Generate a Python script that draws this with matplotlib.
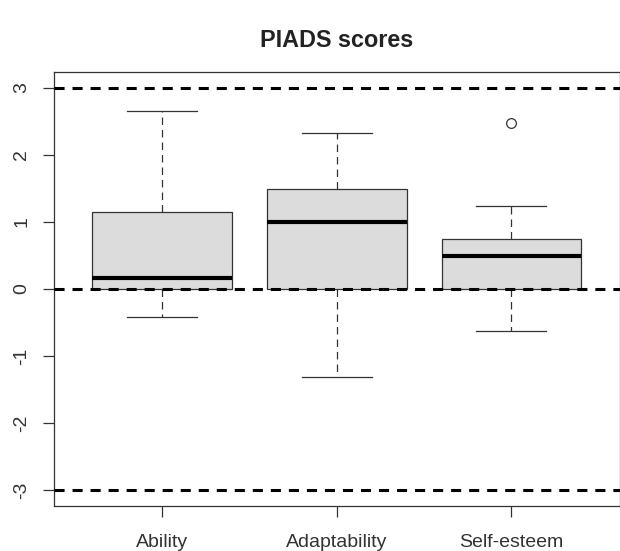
import matplotlib
matplotlib.use('Agg')
import matplotlib.pyplot as plt

# ---- data ----
categories = ['Ability', 'Adaptability', 'Self-esteem']
whislo = [-0.42, -1.32, -0.63]
q1 = [0.0, 0.0, 0.0]
med = [0.16, 1.0, 0.49]
q3 = [1.15, 1.49, 0.75]
whishi = [2.65, 2.32, 1.23]
fliers = [[], [], [2.48]]
ref_lines = [-3, 0, 3]
y_ticks = [-3, -2, -1, 0, 1, 2, 3]

plt.rcParams['font.family'] = ['Liberation Sans', 'DejaVu Sans']

fig = plt.figure(figsize=(6.2, 5.51), dpi=100)
ax = fig.add_axes([0.0866, 0.0817, 0.913, 0.788])

stats = []
for i, name in enumerate(categories):
    stats.append(dict(label=name, whislo=whislo[i], q1=q1[i], med=med[i],
                      q3=q3[i], whishi=whishi[i], fliers=fliers[i]))

ax.bxp(stats, positions=range(1, len(categories) + 1), widths=0.8,
       patch_artist=True, showfliers=True,
       boxprops=dict(facecolor='#dcdcdc', edgecolor='#333333', linewidth=0.9),
       medianprops=dict(color='black', linewidth=3.0, solid_capstyle='butt'),
       whiskerprops=dict(color='#333333', linewidth=0.9, linestyle=(0, (6, 4))),
       capprops=dict(color='#333333', linewidth=0.9),
       capwidths=0.4,
       flierprops=dict(marker='o', markersize=7, markerfacecolor='none',
                       markeredgecolor='#333333', markeredgewidth=0.9))

# Reference lines at -3, 0 and 3
for y in ref_lines:
    ax.axhline(y, color='black', linewidth=2.2, linestyle=(0, (3.3, 2.6)), zorder=5)

ax.set_xlim(0.38, 3.62)
ax.set_ylim(-3.24, 3.24)
ax.set_yticks(y_ticks)
ax.set_yticklabels([str(t) for t in y_ticks], rotation=90, va='center')
ax.set_xticks(range(1, len(categories) + 1))
ax.set_xticklabels(categories)
ax.tick_params(axis='both', labelsize=14, length=8, width=0.9, color='#333333',
               labelcolor='#333333')
ax.tick_params(axis='y', pad=9)
ax.tick_params(axis='x', pad=12)
for sp in ax.spines.values():
    sp.set_color('#333333')
    sp.set_linewidth(0.9)

fig.text(0.543, 0.927, 'PIADS scores', ha='center', va='center',
         fontsize=16.8, fontweight='bold', color='#222222')

fig.savefig('out.png', dpi=100)
plt.close(fig)
